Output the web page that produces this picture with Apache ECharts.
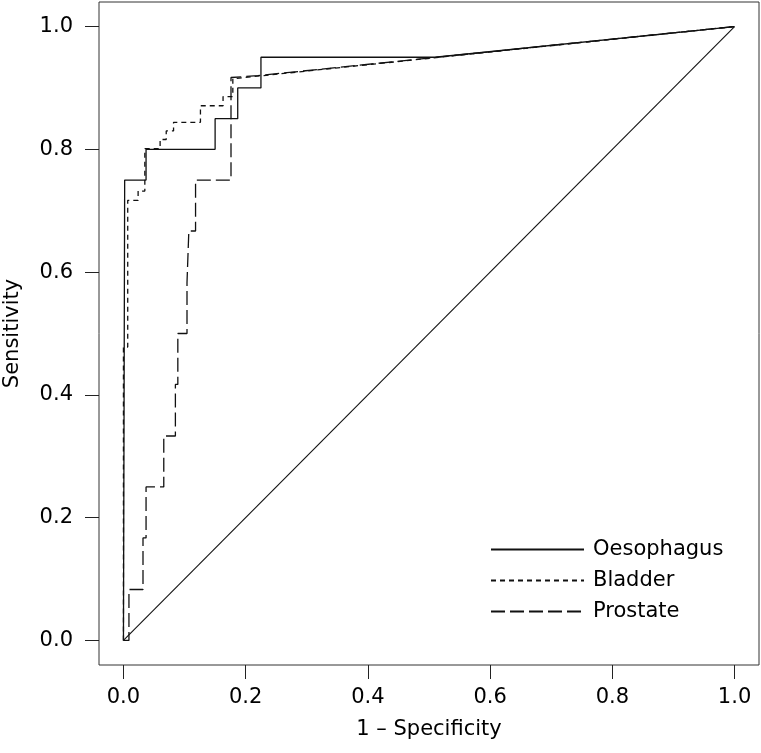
<!DOCTYPE html>
<html>
<head>
<meta charset="utf-8">
<script src="https://cdn.jsdelivr.net/npm/echarts@6/dist/echarts.min.js"></script>
<style>
  html, body { margin: 0; padding: 0; background: #fff; }
  #roc { width: 761px; height: 753px; }
</style>
</head>
<body>
<div id="roc"></div>
<script>
// ROC curves: x = 1 - specificity, y = sensitivity
const oesophagusX = [0, 0.002, 0.002, 0.037, 0.037, 0.15, 0.15, 0.187, 0.187, 0.225, 0.225, 0.51, 1];
const oesophagusY = [0, 0, 0.75, 0.75, 0.8, 0.8, 0.85, 0.85, 0.9, 0.9, 0.95, 0.95, 1];

const bladderX = [0, 0, 0.007, 0.007, 0.024, 0.024, 0.035, 0.035, 0.06, 0.06, 0.07, 0.07, 0.082, 0.082, 0.126, 0.126, 0.163, 0.163, 0.179, 0.179, 1];
const bladderY = [0, 0.478, 0.478, 0.717, 0.717, 0.732, 0.732, 0.801, 0.801, 0.816, 0.816, 0.83, 0.83, 0.844, 0.844, 0.871, 0.871, 0.886, 0.886, 0.915, 1];

const prostateX = [0, 0.009, 0.009, 0.032, 0.032, 0.037, 0.037, 0.066, 0.066, 0.085, 0.085, 0.089, 0.089, 0.104, 0.104, 0.107, 0.107, 0.118, 0.118, 0.176, 0.176, 0.22, 1];
const prostateY = [0, 0, 0.083, 0.083, 0.167, 0.167, 0.25, 0.25, 0.333, 0.333, 0.417, 0.417, 0.5, 0.5, 0.583, 0.583, 0.667, 0.667, 0.75, 0.75, 0.917, 0.92, 1];

const chanceX = [0, 1];
const chanceY = [0, 1];

const tickValues = [0, 0.2, 0.4, 0.6, 0.8, 1.0];
const seriesNames = ["Oesophagus", "Bladder", "Prostate"];

const font = "DejaVu Sans";

function pairs(xs, ys) {
  return xs.map((x, i) => [x, ys[i]]);
}

function makeAxis() {
  return {
    type: "value",
    min: -0.04,
    max: 1.04,
    splitLine: { show: false },
    axisLine: { show: false, onZero: false },
    axisTick: {
      show: true,
      inside: false,
      length: 14,
      customValues: tickValues,
      lineStyle: { color: "#222", width: 1 },
    },
    axisLabel: {
      customValues: tickValues,
      formatter: (v) => v.toFixed(1),
      color: "#000",
      fontFamily: font,
      fontSize: 21,
    },
    nameLocation: "middle",
    nameTextStyle: { color: "#000", fontFamily: font, fontSize: 21 },
  };
}

const xAxis = makeAxis();
xAxis.name = "1 \u2013 Specificity";
xAxis.nameGap = 54;
xAxis.axisLabel.margin = 22;

const yAxis = makeAxis();
yAxis.name = "Sensitivity";
yAxis.nameGap = 76;
yAxis.axisLabel.margin = 26;

const chart = echarts.init(document.getElementById("roc"));
const option = {
  animation: false,
  grid: {
    left: 99,
    right: 2,
    top: 2,
    bottom: 88,
    containLabel: false,
    outerBoundsMode: "none",
    show: true,
    borderColor: "#333",
    borderWidth: 1,
    backgroundColor: "transparent",
  },
  xAxis: xAxis,
  yAxis: yAxis,
  legend: {
    data: seriesNames,
    orient: "vertical",
    left: 490,
    top: 539,
    padding: 0,
    itemWidth: 93,
    itemHeight: 20,
    itemGap: 10,
    itemStyle: { opacity: 0 },
    textStyle: { color: "#000", fontFamily: font, fontSize: 21, padding: [0, 0, 0, 4] },
  },
  series: [
    {
      name: "Oesophagus",
      type: "line",
      data: pairs(oesophagusX, oesophagusY),
      symbol: "none",
      lineStyle: { color: "#111", width: 1.3, type: "solid" },
      itemStyle: { color: "#111" },
    },
    {
      name: "Bladder",
      type: "line",
      data: pairs(bladderX, bladderY),
      symbol: "none",
      lineStyle: { color: "#111", width: 1.3, type: [5, 4] },
      itemStyle: { color: "#111" },
    },
    {
      name: "Prostate",
      type: "line",
      data: pairs(prostateX, prostateY),
      symbol: "none",
      lineStyle: { color: "#111", width: 1.3, type: [14, 5] },
      itemStyle: { color: "#111" },
    },
    {
      name: "chance",
      type: "line",
      data: pairs(chanceX, chanceY),
      symbol: "none",
      lineStyle: { color: "#111", width: 1.1, type: "solid" },
      silent: true,
    },
  ],
};
chart.setOption(option);
</script>
</body>
</html>
